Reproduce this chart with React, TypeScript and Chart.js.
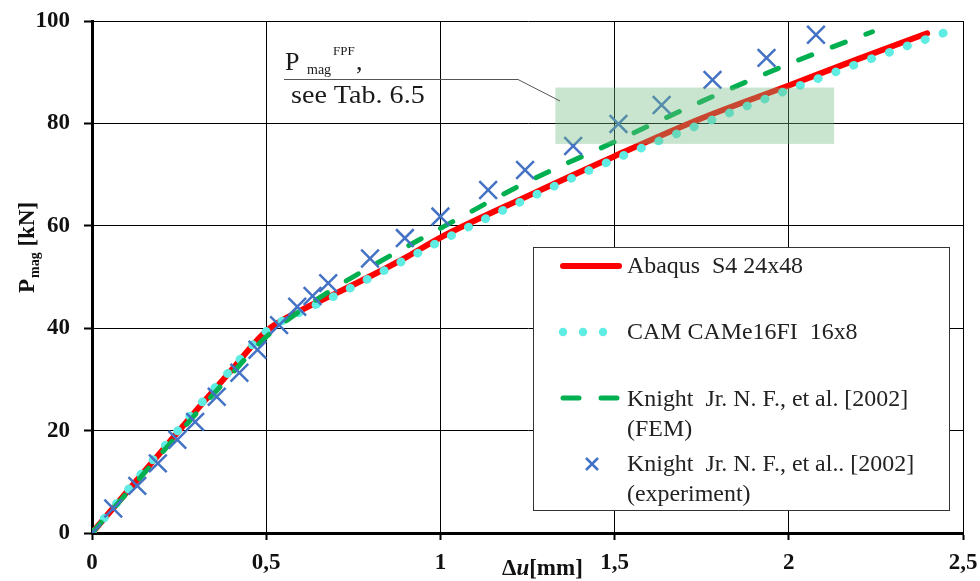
import React, { useEffect, useRef } from "react";
import { Chart, registerables } from "chart.js";

Chart.register(...registerables);

const SERIF = '"Liberation Serif", "Times New Roman", serif';

// ---- axis ticks ----
const xTickValues = [0, 0.5, 1, 1.5, 2, 2.5];
const xTickLabels = ["0", "0,5", "1", "1,5", "2", "2,5"];
const yTickValues = [0, 20, 40, 60, 80, 100];
const yTickLabels = ["0", "20", "40", "60", "80", "100"];

// ---- series: Abaqus S4 24x48 ----
const abaqusX = [0, 0.1, 0.2, 0.3, 0.4, 0.5, 0.6, 0.7, 0.8, 0.9, 1.0, 1.25, 1.5, 1.75, 2.0, 2.2, 2.397];
const abaqusY = [0, 8, 16, 24, 31.8, 39.4, 43.5, 46.8, 50.2, 53.8, 57.7, 65.8, 73.6, 81, 87.4, 92.6, 97.6];

// ---- series: CAM CAMe16FI 16x8 ----
const camX = [0, 0.1, 0.2, 0.3, 0.4, 0.5, 0.6, 0.7, 0.8, 0.9, 1.0, 1.25, 1.5, 1.78, 1.99, 2.2, 2.475];
const camY = [0, 8.2, 16.3, 24.3, 32, 39.4, 43.2, 46.4, 49.9, 53.4, 57.0, 65.3, 73, 80.7, 86.3, 91.7, 98.4];

// ---- series: Knight Jr. N. F., et al. [2002] (FEM) ----
const femX = [0, 0.1, 0.2, 0.3, 0.4, 0.5, 0.6, 0.7, 0.8, 0.9, 1.0, 1.25, 1.5, 1.75, 2.0, 2.24];
const femY = [0, 7.8, 15.6, 23.4, 31, 38.3, 43.5, 48, 52, 55.8, 59.5, 68.6, 76.4, 84.3, 91.6, 97.9];

// ---- series: Knight Jr. N. F., et al. [2002] (experiment) ----
const expX = [0, 0.061, 0.13, 0.189, 0.245, 0.296, 0.358, 0.423, 0.475, 0.537, 0.589, 0.633, 0.678, 0.798, 0.898, 1.0, 1.137, 1.243, 1.381, 1.511, 1.635, 1.781, 1.936, 2.078];
const expY = [0, 4.8, 9.2, 13.6, 18.2, 21.7, 26.6, 31.3, 35.8, 40.6, 44.2, 46.3, 48.8, 53.6, 57.6, 61.8, 67.0, 70.9, 75.6, 79.9, 83.6, 88.5, 92.8, 97.3];

// ---- legend labels ----
const legendLabels = [
  ["Abaqus  S4 24x48"],
  ["CAM CAMe16FI  16x8"],
  ["Knight  Jr. N. F., et al. [2002]", "(FEM)"],
  ["Knight  Jr. N. F., et al.. [2002]", "(experiment)"],
];

// ---- FPF range box (data units) ----
const fpfXRange = [1.33, 2.13];
const fpfYRange = [76, 87];

const RED = "#ff0000";
const CYAN = "rgb(95,236,226)";
const GREEN = "#00b050";
const BLUE = "rgb(68,114,196)";

function pts(xs: number[], ys: number[]) {
  return xs.map((x, i) => ({ x, y: ys[i] }));
}

const overlayPlugin = {
  id: "overlay",
  afterDatasetsDraw(chart: any) {
    const { ctx, scales } = chart;
    const xs = scales.x;
    const ys = scales.y;
    const x0 = xs.getPixelForValue(fpfXRange[0]);
    const x1 = xs.getPixelForValue(fpfXRange[1]);
    const y0 = ys.getPixelForValue(fpfYRange[1]);
    const y1 = ys.getPixelForValue(fpfYRange[0]);
    ctx.save();
    ctx.fillStyle = "rgba(112,186,128,0.38)";
    ctx.fillRect(x0, y0, x1 - x0, y1 - y0);
    ctx.restore();
  },
  afterDraw(chart: any) {
    const { ctx } = chart;
    ctx.save();

    // ---- callout ----
    ctx.strokeStyle = "#555";
    ctx.lineWidth = 1;
    ctx.beginPath();
    ctx.moveTo(284, 79.5);
    ctx.lineTo(518, 79.5);
    ctx.lineTo(560, 101);
    ctx.stroke();

    ctx.fillStyle = "#1a1a1a";
    ctx.textBaseline = "alphabetic";
    ctx.textAlign = "left";
    ctx.font = `26px ${SERIF}`;
    ctx.fillText("P", 285, 70);
    ctx.font = `14px ${SERIF}`;
    ctx.fillText("mag", 307, 74);
    ctx.font = `13px ${SERIF}`;
    ctx.fillText("FPF", 333, 55);
    ctx.font = `26px ${SERIF}`;
    ctx.fillText(",", 356, 70);
    ctx.save();
    ctx.translate(291, 103);
    ctx.scale(1.08, 1);
    ctx.font = `26px ${SERIF}`;
    ctx.fillText("see Tab. 6.5", 0, 0);
    ctx.restore();

    // ---- legend ----
    const lx = 533, ly = 247, lw = 416, lh = 263;
    ctx.fillStyle = "#fff";
    ctx.fillRect(lx, ly, lw, lh);
    ctx.strokeStyle = "#333";
    ctx.lineWidth = 1;
    ctx.strokeRect(lx + 0.5, ly + 0.5, lw, lh);

    ctx.strokeStyle = RED;
    ctx.lineWidth = 6;
    ctx.lineCap = "round";
    ctx.beginPath();
    ctx.moveTo(563, 266);
    ctx.lineTo(619, 266);
    ctx.stroke();
    ctx.fillStyle = CYAN;
    [563, 583, 603].forEach((cx) => {
      ctx.beginPath();
      ctx.arc(cx, 332, 4.2, 0, Math.PI * 2);
      ctx.fill();
    });
    ctx.strokeStyle = GREEN;
    ctx.lineWidth = 5;
    ctx.beginPath();
    ctx.moveTo(563, 398);
    ctx.lineTo(579, 398);
    ctx.moveTo(601, 398);
    ctx.lineTo(617, 398);
    ctx.stroke();
    ctx.strokeStyle = BLUE;
    ctx.lineWidth = 2.5;
    ctx.lineCap = "butt";
    ctx.beginPath();
    ctx.moveTo(586, 458);
    ctx.lineTo(598, 470);
    ctx.moveTo(598, 458);
    ctx.lineTo(586, 470);
    ctx.stroke();

    ctx.fillStyle = "#222";
    ctx.textBaseline = "middle";
    const rows = [[267], [333], [400, 430], [465, 495]];
    legendLabels.forEach((lines, i) => {
      lines.forEach((t, j) => {
        ctx.save();
        ctx.translate(627, rows[i][j]);
        ctx.scale(1.04, 1);
        ctx.font = `23px ${SERIF}`;
        ctx.fillText(t, 0, 0);
        ctx.restore();
      });
    });

    // ---- x axis title: Δu[mm] ----
    ctx.fillStyle = "#111";
    ctx.textBaseline = "alphabetic";
    let tx = 502;
    const tb = 575;
    ctx.font = `bold 23px ${SERIF}`;
    ctx.fillText("Δ", tx, tb);
    tx += ctx.measureText("Δ").width;
    ctx.font = `italic bold 23px ${SERIF}`;
    ctx.fillText("u", tx, tb);
    tx += ctx.measureText("u").width;
    ctx.font = `bold 23px ${SERIF}`;
    ctx.fillText("[mm]", tx, tb);

    // ---- y axis title: P_mag [kN] ----
    ctx.save();
    ctx.translate(34, 293);
    ctx.rotate(-Math.PI / 2);
    let ty = 0;
    ctx.font = `bold 23px ${SERIF}`;
    ctx.fillText("P", ty, 0);
    ty += ctx.measureText("P").width + 1;
    ctx.font = `bold 14px ${SERIF}`;
    ctx.fillText("mag", ty, 5);
    ty += ctx.measureText("mag").width;
    ctx.font = `bold 23px ${SERIF}`;
    ctx.fillText(" [kN]", ty, 0);
    ctx.restore();

    ctx.restore();
  },
};

export default function App() {
  const ref = useRef<HTMLCanvasElement | null>(null);

  useEffect(() => {
    if (!ref.current) return;
    const chart = new Chart(ref.current, {
      type: "scatter",
      data: {
        datasets: [
          {
            label: legendLabels[0].join(" "),
            data: pts(abaqusX, abaqusY),
            showLine: true,
            borderColor: RED,
            backgroundColor: RED,
            borderWidth: 6,
            pointRadius: 0,
            cubicInterpolationMode: "monotone",
            borderCapStyle: "round",
            order: 4,
          },
          {
            label: legendLabels[1].join(" "),
            data: pts(camX, camY),
            showLine: true,
            borderColor: CYAN,
            backgroundColor: CYAN,
            borderWidth: 8.5,
            borderDash: [0.6, 18.4],
            borderCapStyle: "round",
            pointRadius: 0,
            cubicInterpolationMode: "monotone",
            order: 3,
          },
          {
            label: legendLabels[2].join(" "),
            data: pts(femX, femY),
            showLine: true,
            borderColor: GREEN,
            backgroundColor: GREEN,
            borderWidth: 5,
            borderDash: [14, 22],
            borderCapStyle: "round",
            pointRadius: 0,
            cubicInterpolationMode: "monotone",
            order: 2,
          },
          {
            label: legendLabels[3].join(" "),
            data: pts(expX, expY),
            showLine: false,
            borderColor: BLUE,
            backgroundColor: BLUE,
            pointStyle: "crossRot",
            pointRadius: 12.5,
            pointBorderWidth: 2.5,
            order: 1,
          },
        ],
      },
      options: {
        animation: false,
        responsive: false,
        devicePixelRatio: 1,
        layout: { padding: { left: 0, top: 21, right: 17, bottom: 0 } },
        plugins: {
          legend: { display: false },
          tooltip: { enabled: false },
        },
        scales: {
          x: {
            type: "linear",
            min: 0,
            max: 2.5,
            afterBuildTicks: (s: any) => {
              s.ticks = xTickValues.map((v) => ({ value: v }));
            },
            afterFit: (s: any) => {
              s.height = 48;
              s.paddingLeft = 0;
              s.paddingRight = 0;
            },
            ticks: {
              callback: (v: any) => xTickLabels[xTickValues.indexOf(Number(v))] ?? "",
              color: "#111",
              font: { family: SERIF, size: 23, weight: "bold" },
              padding: 9,
              maxRotation: 0,
            },
            grid: {
              color: "#000",
              lineWidth: 1,
              tickLength: 7,
              tickWidth: 2,
              tickColor: "#000",
            },
            border: { display: true, color: "#000", width: 3 },
          },
          y: {
            type: "linear",
            min: 0,
            max: 100,
            afterBuildTicks: (s: any) => {
              s.ticks = yTickValues.map((v) => ({ value: v }));
            },
            afterFit: (s: any) => {
              s.width = 92;
              s.paddingTop = 0;
              s.paddingBottom = 0;
            },
            ticks: {
              callback: (v: any) => yTickLabels[yTickValues.indexOf(Number(v))] ?? "",
              color: "#111",
              font: { family: SERIF, size: 23, weight: "bold" },
              padding: 14,
            },
            grid: {
              color: "#000",
              lineWidth: 1,
              tickLength: 8,
              tickWidth: 2,
              tickColor: "#000",
            },
            border: { display: true, color: "#000", width: 3 },
          },
        },
      },
      plugins: [overlayPlugin],
    } as any);
    return () => chart.destroy();
  }, []);

  return (
    <div style={{ position: "absolute", left: 0, top: 0, width: 980, height: 581, background: "#fff" }}>
      <canvas ref={ref} width={980} height={581} style={{ display: "block" }} />
    </div>
  );
}
